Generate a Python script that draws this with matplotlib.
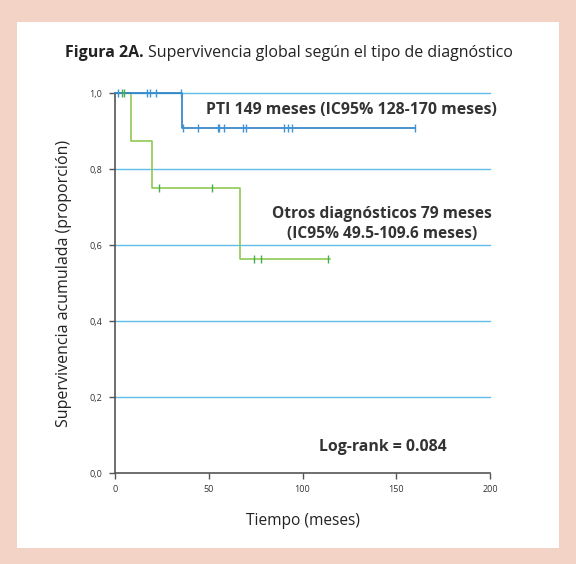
import numpy as np
import matplotlib.pyplot as plt
from matplotlib.patches import Rectangle

plt.rcParams['font.family'] = ['Open Sans', 'DejaVu Sans']

# Curva PTI
pti_t = [0, 35.5, 160]
pti_s = [1.0, 0.909, 0.909]
pti_cens_t = [1.8, 16.9, 18.7, 21.9, 35.0,
              36.4, 44.4, 54.8, 55.6, 58.3, 68.1, 69.9, 90.3, 92.1, 94.2, 160.0]

# Curva otros diagnosticos
otr_t = [0, 8.4, 19.6, 66.7, 114.5]
otr_s = [1.0, 0.875, 0.75, 0.5625, 0.5625]
otr_cens_t = [3.6, 5.0, 23.5, 51.6, 74.1, 78.0, 113.4]

y_ticks = [0.0, 0.2, 0.4, 0.6, 0.8, 1.0]
y_labels = ['0,0', '0,2', '0,4', '0,6', '0,8', '1,0']
x_ticks = [0, 50, 100, 150, 200]


def surv_at(times, surv, t):
    # valor de la curva escalonada en el tiempo t
    idx = np.searchsorted(times, t, side='right') - 1
    return np.asarray(surv)[idx]


fig = plt.figure(figsize=(5.76, 5.64), dpi=100, facecolor='#f2d3c5')
fig.patches.append(Rectangle((17 / 576, 1 - 548 / 564), 542 / 576, 526 / 564,
                             transform=fig.transFigure, facecolor='white',
                             edgecolor='none', zorder=-10))

ax = fig.add_axes([115 / 576, 91 / 564, 375 / 576, 380 / 564])
ax.set_facecolor('none')
ax.set_xlim(0, 200)
ax.set_ylim(0, 1.0)

for y in y_ticks[1:]:
    ax.axhline(y, color='#5fbfea', lw=1.0, zorder=1, clip_on=False)

ax.step(otr_t, otr_s, where='post', color='#86c545', lw=1.1, zorder=3, clip_on=False)
ax.plot(otr_cens_t, surv_at(otr_t, otr_s, otr_cens_t), ls='none', marker='|',
        ms=6, mew=1.0, color='#45ad4c', zorder=4, clip_on=False)

ax.step(pti_t, pti_s, where='post', color='#2a7fc8', lw=1.2, zorder=3, clip_on=False)
ax.plot(pti_cens_t, surv_at(pti_t, pti_s, pti_cens_t), ls='none', marker='|',
        ms=6, mew=1.0, color='#3d95d6', zorder=4, clip_on=False)

for side in ['top', 'right']:
    ax.spines[side].set_visible(False)
for side in ['left', 'bottom']:
    ax.spines[side].set_color('#555555')
    ax.spines[side].set_linewidth(1.2)

ax.set_yticks(y_ticks)
ax.set_yticklabels(y_labels)
ax.set_xticks(x_ticks)
ax.tick_params(axis='both', labelsize=6.5, colors='#555555', length=4, width=1.0,
               labelcolor='#333333', pad=5)

ax.set_xlabel('Tiempo (meses)', fontsize=11.2, color='#222222', labelpad=13)
ax.set_ylabel('Supervivencia acumulada (proporción)', fontsize=11.5, color='#222222',
              labelpad=13)

ax.text(125.9, 0.955, 'PTI 149 meses (IC95% 128-170 meses)', ha='center', va='center',
        fontsize=11.4, fontweight='bold', color='#333333')
ax.text(142.4, 0.682, 'Otros diagnósticos 79 meses', ha='center', va='center',
        fontsize=11.2, fontweight='bold', color='#333333')
ax.text(142.4, 0.629, '(IC95% 49.5-109.6 meses)', ha='center', va='center',
        fontsize=11.2, fontweight='bold', color='#333333')
ax.text(142.7, 0.068, 'Log-rank = 0.084', ha='center', va='center',
        fontsize=11.4, fontweight='bold', color='#333333')

t1 = fig.text(65 / 576, 1 - 53 / 564, 'Figura 2A.', ha='left', va='center',
              fontsize=11.5, fontweight='bold', color='#222222')
fig.canvas.draw()
bb = t1.get_window_extent()
fig.text(bb.x1 / fig.bbox.width + 4 / 576, 1 - 53 / 564,
         'Supervivencia global según el tipo de diagnóstico', ha='left', va='center',
         fontsize=11.5, color='#222222')

fig.savefig('out.png', dpi=100, facecolor=fig.get_facecolor())
